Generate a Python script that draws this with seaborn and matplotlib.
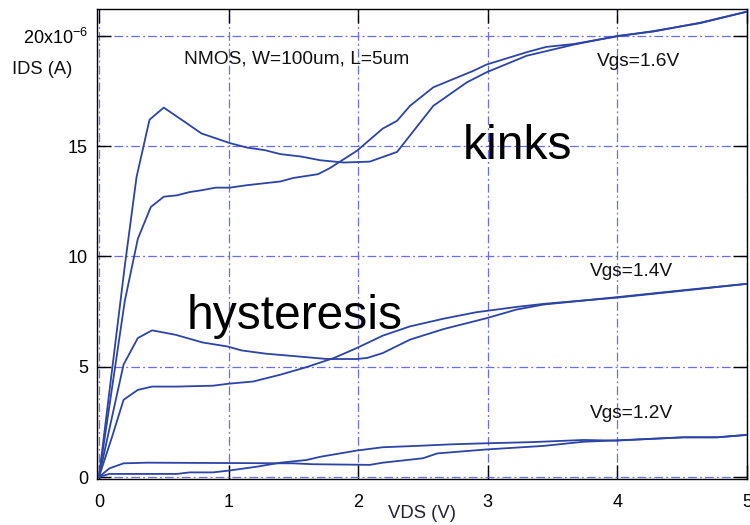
import numpy as np
import pandas as pd
import matplotlib
matplotlib.use("Agg")
import matplotlib.pyplot as plt
import seaborn as sns

# ---- data (VDS in V, IDS in uA) ----
a_x = [0, 0.1, 0.2, 0.29, 0.39, 0.5, 0.6, 0.68, 0.79, 1.01, 1.14, 1.28, 1.40, 1.56, 1.71, 1.89, 2.09, 2.30, 2.58, 2.84, 2.99, 3.30, 3.66, 4.0, 4.28, 4.64, 5.0]
a_y = [0, 4.8, 9.6, 13.6, 16.2, 16.75, 16.35, 16.03, 15.58, 15.14, 14.94, 14.82, 14.64, 14.53, 14.36, 14.26, 14.3, 14.74, 16.83, 17.9, 18.35, 19.1, 19.6, 20.0, 20.2, 20.6, 21.1]
b_x = [0, 0.1, 0.2, 0.30, 0.40, 0.50, 0.60, 0.70, 0.79, 0.90, 1.01, 1.14, 1.40, 1.50, 1.69, 1.78, 1.99, 2.19, 2.30, 2.40, 2.58, 2.89, 2.99, 3.30, 3.45, 3.66, 4.0, 4.28, 4.64, 5.0]
b_y = [0, 4.0, 8.0, 10.8, 12.24, 12.71, 12.77, 12.92, 13.0, 13.12, 13.12, 13.23, 13.4, 13.56, 13.73, 14.0, 14.79, 15.8, 16.15, 16.83, 17.67, 18.42, 18.7, 19.26, 19.5, 19.63, 19.98, 20.22, 20.58, 21.1]
c_x = [0, 0.1, 0.19, 0.30, 0.41, 0.59, 0.80, 0.99, 1.10, 1.29, 1.53, 1.76, 1.99, 2.07, 2.19, 2.40, 2.66, 2.99, 3.22, 3.43, 3.99, 4.51, 5.0]
c_y = [0, 2.7, 5.1, 6.3, 6.65, 6.45, 6.1, 5.92, 5.74, 5.59, 5.47, 5.35, 5.35, 5.4, 5.62, 6.23, 6.71, 7.2, 7.59, 7.82, 8.15, 8.47, 8.76]
d_x = [0, 0.1, 0.19, 0.30, 0.41, 0.60, 0.88, 1.0, 1.19, 1.40, 1.60, 1.81, 1.99, 2.19, 2.40, 2.66, 2.91, 3.22, 3.43, 3.99, 4.51, 5.0]
d_y = [0, 1.8, 3.5, 3.95, 4.1, 4.1, 4.14, 4.23, 4.33, 4.64, 4.98, 5.39, 5.85, 6.41, 6.83, 7.18, 7.47, 7.71, 7.85, 8.13, 8.45, 8.76]
e_x = [0, 0.08, 0.19, 0.37, 1.5, 1.65, 2.09, 2.19, 2.50, 2.61, 2.99, 3.43, 3.74, 3.99, 4.51, 4.77, 5.0]
e_y = [0, 0.39, 0.62, 0.65, 0.62, 0.58, 0.55, 0.65, 0.85, 1.07, 1.25, 1.41, 1.6, 1.66, 1.8, 1.8, 1.91]
f_x = [0, 0.08, 0.6, 0.70, 0.88, 1.0, 1.22, 1.40, 1.60, 1.71, 1.99, 2.19, 2.45, 2.71, 2.99, 3.33, 3.74, 3.99, 4.51, 4.77, 5.0]
f_y = [0, 0.14, 0.14, 0.21, 0.21, 0.29, 0.47, 0.65, 0.77, 0.92, 1.2, 1.35, 1.41, 1.48, 1.53, 1.58, 1.68, 1.65, 1.8, 1.8, 1.91]

curves = {"1.6a": (a_x, a_y), "1.6b": (b_x, b_y), "1.4a": (c_x, c_y),
          "1.4b": (d_x, d_y), "1.2a": (e_x, e_y), "1.2b": (f_x, f_y)}

y_ticks = [0, 5, 10, 15, 20]
y_ticklabels = ["0", "5", "10", "15", r"20x10$^{-6}$"]
x_ticks = [0, 1, 2, 3, 4, 5]
x_ticklabels = ["0", "1", "2", "3", "4", "5"]

rows = []
for name, (xs, ys) in curves.items():
    for i, (x, y) in enumerate(zip(xs, ys)):
        rows.append({"curve": name, "order": i, "VDS": x, "IDS": y})
df = pd.DataFrame(rows)

sns.set_theme(style="white")
plt.rcParams["font.family"] = ["Liberation Sans", "DejaVu Sans"]
plt.rcParams["mathtext.fontset"] = "custom"
plt.rcParams["mathtext.rm"] = "Liberation Sans"
plt.rcParams["mathtext.default"] = "regular"

fig = plt.figure(figsize=(7.5, 5.25), dpi=100)
ax = fig.add_axes([97 / 750, 1 - 479 / 525, 650 / 750, 470 / 525])

line_color = "#2b44a6"
for name in curves:
    sub = df[df["curve"] == name]
    sns.lineplot(data=sub, x="VDS", y="IDS", sort=False, estimator=None,
                 color=line_color, linewidth=1.3, ax=ax, zorder=3)

ax.set_xlim(-0.015, 5.0)
ax.set_ylim(-0.09, 21.22)
ax.set_xticks(x_ticks)
ax.set_xticklabels(x_ticklabels)
ax.set_yticks(y_ticks)
ax.set_yticklabels(y_ticklabels)

ax.grid(True, color="#6a6aff", linestyle=(0, (7, 2.5, 1.5, 2.5)), linewidth=0.9, zorder=1)
ax.set_axisbelow(True)
for sp in ax.spines.values():
    sp.set_color("black")
    sp.set_linewidth(1.0)
    sp.set_visible(True)

ax.tick_params(axis="both", direction="in", length=10, width=1, colors="black",
               labelsize=13, top=True, right=True, bottom=True, left=True)
ax.tick_params(axis="x", pad=11)
ax.tick_params(axis="y", pad=6.5)

ax.set_xlabel("VDS (V)", fontsize=13.3, color="#222233")
ax.xaxis.set_label_coords(0.5, -0.0553)
ax.set_ylabel("IDS (A)", fontsize=13.2, rotation=0, ha="center", va="center", color="#111111")
ax.yaxis.set_label_coords(-0.0846, 0.872)

ax.text(0.66, 18.95, "NMOS, W=100um, L=5um", fontsize=13.8, ha="left", va="center", color="#111111")
ax.text(3.84, 18.86, "Vgs=1.6V", fontsize=13.8, ha="left", va="center", color="#111111")
ax.text(3.79, 9.32, "Vgs=1.4V", fontsize=13.8, ha="left", va="center", color="#111111")
ax.text(3.79, 2.86, "Vgs=1.2V", fontsize=13.8, ha="left", va="center", color="#111111")
ax.text(2.81, 14.4, "kinks", fontsize=34.5, ha="left", va="baseline", color="black")
ax.text(0.68, 6.73, "hysteresis", fontsize=34.5, ha="left", va="baseline", color="black")

fig.savefig("out.png", dpi=100)
